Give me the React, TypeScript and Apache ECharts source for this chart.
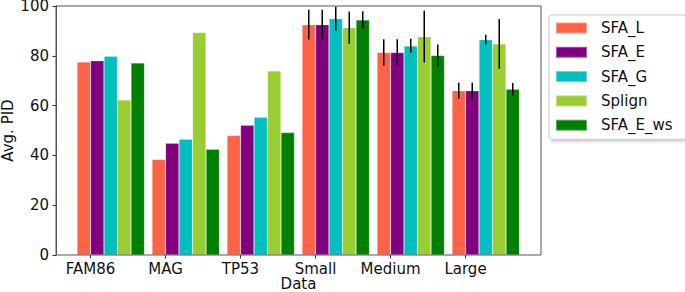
import React, { useEffect, useRef } from "react";
import * as echarts from "echarts";

const categories = ["FAM86", "MAG", "TP53", "Small", "Medium", "Large"];
const seriesNames = ["SFA_L", "SFA_E", "SFA_G", "Splign", "SFA_E_ws"];
const colors = ["#FF6347", "#800080", "#00BFBF", "#9ACD32", "#008000"];

const sfaL = [77.5, 38.4, 48.0, 92.5, 81.3, 66.0];
const sfaE = [78.0, 44.9, 52.1, 92.5, 81.3, 66.0];
const sfaG = [79.8, 46.5, 55.3, 94.9, 84.0, 86.5];
const splign = [62.3, 89.4, 73.9, 91.3, 87.7, 84.8];
const sfaEws = [77.1, 42.5, 49.2, 94.4, 80.1, 66.6];

const errL = [null, null, null, 6.0, 5.3, 3.2];
const errE = [null, null, null, 6.0, 5.3, 3.2];
const errG = [null, null, null, 4.8, 2.8, 2.0];
const errSplign = [null, null, null, 6.5, 10.4, 10.0];
const errEws = [null, null, null, 3.5, 4.4, 2.5];

const yTicks = { min: 0, max: 100, interval: 20 };

const values = [sfaL, sfaE, sfaG, splign, sfaEws];
const errors = [errL, errE, errG, errSplign, errEws];

export default function App() {
  const ref = useRef<HTMLDivElement>(null);
  useEffect(() => {
    if (!ref.current) return;
    const chart = echarts.init(ref.current, null, { renderer: "svg" });
    const font = "DejaVu Sans";
    const nBars = seriesNames.length;
    const groupFrac = 0.9;

    const barSeries = seriesNames.map((name, k) => ({
      name,
      type: "bar",
      xAxisIndex: 1,
      yAxisIndex: 1,
      data: values[k],
      barGap: "0%",
      barCategoryGap: "10%",
      itemStyle: { color: colors[k], borderColor: "rgba(255,255,255,0.35)", borderWidth: 0.6 },
      z: 2,
    }));

    const errSeries = seriesNames.map((name, k) => ({
      name: name + "_err",
      type: "custom",
      xAxisIndex: 1,
      yAxisIndex: 1,
      z: 5,
      silent: true,
      data: categories
        .map((_, i) => [i, values[k][i], errors[k][i]])
        .filter((d) => d[2] != null),
      renderItem: (params: any, api: any) => {
        const i = api.value(0);
        const v = api.value(1);
        const e = api.value(2);
        const band = api.size([1, 0])[0];
        const bw = (band * groupFrac) / nBars;
        const off = (k - (nBars - 1) / 2) * bw;
        const top = api.coord([i, v + e]);
        const bot = api.coord([i, v - e]);
        return {
          type: "line",
          shape: { x1: top[0] + off, y1: top[1], x2: bot[0] + off, y2: bot[1] },
          style: { stroke: "#000", lineWidth: 1.5 },
        };
      },
    }));

    const gridCommon = { top: 6, height: 249, containLabel: false, outerBoundsMode: "none" };

    chart.setOption({
      animation: false,
      textStyle: { fontFamily: font },
      grid: [
        { ...gridCommon, left: 56, width: 485, show: true, borderColor: "#555", borderWidth: 1, backgroundColor: "transparent", z: 10 },
        { ...gridCommon, left: 73.25, width: 450 },
        { ...gridCommon, left: 53, width: 450 },
      ],
      xAxis: [
        {
          gridIndex: 0, type: "value", min: 0, max: 1,
          axisLine: { show: false }, axisTick: { show: false }, axisLabel: { show: false }, splitLine: { show: false },
          name: "Data", nameLocation: "middle", nameGap: 22, nameMoveOverlap: false,
          nameTextStyle: { fontSize: 15, color: "#111", fontFamily: font, lineHeight: 14 },
        },
        {
          gridIndex: 1, type: "category", data: categories,
          axisLine: { show: false }, axisTick: { show: false }, axisLabel: { show: false },
        },
        {
          gridIndex: 2, type: "category", data: categories,
          axisLine: { show: false },
          axisTick: { show: true, alignWithLabel: true, length: 3.5, lineStyle: { color: "#333" } },
          axisLabel: { show: true, interval: 0, fontSize: 15, color: "#111", margin: 6, fontFamily: font },
        },
      ],
      yAxis: [
        {
          gridIndex: 0, type: "value", ...yTicks,
          axisLine: { show: true, lineStyle: { color: "#555" } },
          axisTick: { show: true, length: 3.5, lineStyle: { color: "#333" } },
          axisLabel: { fontSize: 15, color: "#111", margin: 7, fontFamily: font, lineHeight: 12 },
          splitLine: { show: false },
          name: "Avg. PID", nameLocation: "middle", nameGap: 40, nameMoveOverlap: false,
          nameTextStyle: { fontSize: 15, color: "#111", fontFamily: font, lineHeight: 16 },
        },
        {
          gridIndex: 1, type: "value", ...yTicks,
          axisLine: { show: false }, axisTick: { show: false }, axisLabel: { show: false }, splitLine: { show: false },
        },
        {
          gridIndex: 2, type: "value", ...yTicks,
          axisLine: { show: false }, axisTick: { show: false }, axisLabel: { show: false }, splitLine: { show: false },
        },
      ],
      legend: {
        data: seriesNames,
        orient: "vertical",
        left: 549,
        top: 15,
        width: 135,
        itemWidth: 31,
        itemHeight: 11,
        itemGap: 6.3,
        padding: [4, 14, 5, 6],
        backgroundColor: "#fff",
        borderColor: "#ccc",
        borderWidth: 1,
        borderRadius: 3,
        shadowColor: "rgba(0,0,0,0.25)",
        shadowBlur: 3,
        shadowOffsetX: 1.5,
        shadowOffsetY: 1.5,
        icon: "rect",
        textStyle: { fontSize: 15, color: "#111", lineHeight: 18, padding: [0, 0, 0, 9], fontFamily: font },
      },
      series: [...barSeries, ...errSeries],
    });
    return () => chart.dispose();
  }, []);
  return <div ref={ref} style={{ width: 685, height: 292, position: "absolute", left: 0, top: 0 }} />;
}
